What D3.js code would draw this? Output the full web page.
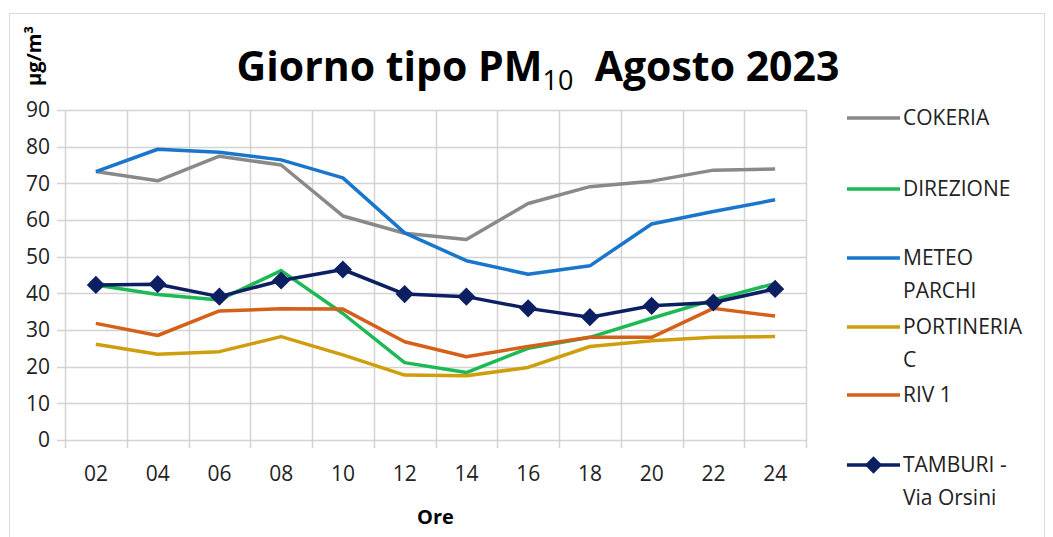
<!DOCTYPE html>
<html>
<head>
<meta charset="utf-8">
<script src="https://cdn.jsdelivr.net/npm/d3@7"></script>
<style>
  body { margin: 0; background: #fff; }
  svg { font-family: "Open Sans", "Noto Sans", sans-serif; }
</style>
</head>
<body>
<div id="chart"></div>
<script>
const hours = ["02", "04", "06", "08", "10", "12", "14", "16", "18", "20", "22", "24"];
const yTicks = [0, 10, 20, 30, 40, 50, 60, 70, 80, 90];

const cokeria = [73.2, 70.7, 77.4, 75.0, 61.1, 56.4, 54.7, 64.5, 69.1, 70.6, 73.6, 73.9];
const direzione = [42.3, 39.7, 38.2, 46.2, 34.5, 21.1, 18.4, 25.0, 28.0, 33.2, 38.2, 42.7];
const meteoParchi = [73.2, 79.3, 78.5, 76.4, 71.5, 56.5, 48.9, 45.2, 47.5, 58.9, 62.3, 65.5];
const portineriaC = [26.1, 23.4, 24.1, 28.2, 23.2, 17.7, 17.5, 19.8, 25.5, 27.1, 28.0, 28.2];
const riv1 = [31.8, 28.5, 35.2, 35.8, 35.7, 26.8, 22.7, 25.5, 28.0, 28.0, 35.9, 33.8];
const tamburi = [42.3, 42.5, 39.1, 43.5, 46.5, 39.8, 39.1, 35.9, 33.5, 36.6, 37.5, 41.2];

const series = [
  { name: ["COKERIA"], values: cokeria, color: "#898989" },
  { name: ["DIREZIONE"], values: direzione, color: "#1db954" },
  { name: ["METEO", "PARCHI"], values: meteoParchi, color: "#1a75cc" },
  { name: ["PORTINERIA", "C"], values: portineriaC, color: "#cf9e0c" },
  { name: ["RIV 1"], values: riv1, color: "#d4601a" },
  { name: ["TAMBURI -", "Via Orsini"], values: tamburi, color: "#0c1f62", marker: true }
];

const width = 1053;
const height = 537;
const margin = { top: 110, left: 65, bottom: 97, right: 247 };
const iwidth = width - margin.left - margin.right;
const iheight = height - margin.top - margin.bottom;

const svg = d3.select("#chart").append("svg")
  .attr("width", width)
  .attr("height", height);

// outer frame
svg.append("rect")
  .attr("x", 9.5).attr("y", 13.5)
  .attr("width", 1035).attr("height", 530)
  .attr("fill", "none").attr("stroke", "#d9d9d9");

const title = svg.append("text")
  .attr("x", 538).attr("y", 81)
  .attr("text-anchor", "middle")
  .attr("font-size", 41)
  .attr("font-weight", "bold")
  .attr("fill", "#000");
title.append("tspan").text("Giorno tipo PM");
title.append("tspan").attr("font-size", 27).attr("font-weight", "normal").attr("dy", 9).text("10");
title.append("tspan").attr("dy", -9).text("\u00a0 Agosto 2023");

svg.append("text")
  .attr("transform", "translate(41,56) rotate(-90)")
  .attr("text-anchor", "middle")
  .attr("font-size", 20)
  .attr("font-weight", "bold")
  .text("µg/m³");

const g = svg.append("g")
  .attr("transform", `translate(${margin.left},${margin.top})`);

const x = d3.scaleBand().domain(hours).range([0, iwidth]);
const y = d3.scaleLinear().domain([0, 90]).range([iheight, 0]);

// gridlines
g.append("g").classed("grid", true)
  .selectAll("line.h").data(yTicks).enter().append("line")
  .attr("x1", -8).attr("x2", iwidth)
  .attr("y1", (d) => Math.round(y(d)) + 0.5).attr("y2", (d) => Math.round(y(d)) + 0.5)
  .attr("stroke", "#d3d3d3").attr("stroke-width", 1.5);

g.append("g").classed("grid", true)
  .selectAll("line.v").data(hours.concat(["end"])).enter().append("line")
  .attr("x1", (d, i) => Math.round(i * x.step()) + 0.5)
  .attr("x2", (d, i) => Math.round(i * x.step()) + 0.5)
  .attr("y1", 0).attr("y2", iheight + 8)
  .attr("stroke", "#d3d3d3").attr("stroke-width", 1.5);

const yAxis = g.append("g").classed("y--axis", true)
  .call(d3.axisLeft(y).tickValues(yTicks).tickSize(0).tickPadding(15));
yAxis.select(".domain").remove();
yAxis.selectAll("text").attr("font-size", 21).attr("fill", "#222")
  .attr("font-family", "Open Sans, sans-serif");

const xAxis = g.append("g").classed("x--axis", true)
  .attr("transform", `translate(0,${iheight})`)
  .call(d3.axisBottom(x).tickSize(0).tickPadding(26));
xAxis.select(".domain").remove();
xAxis.selectAll("text").attr("font-size", 21).attr("fill", "#222")
  .attr("font-family", "Open Sans, sans-serif");

svg.append("text")
  .attr("x", margin.left + iwidth / 2).attr("y", 524)
  .attr("text-anchor", "middle")
  .attr("font-size", 20).attr("font-weight", "bold")
  .text("Ore");

const line = d3.line()
  .x((d, i) => x(hours[i]) + x.bandwidth() / 2)
  .y((d) => y(d));

series.forEach((s) => {
  g.append("path")
    .datum(s.values)
    .attr("fill", "none")
    .attr("stroke", s.color)
    .attr("stroke-width", 3.5)
    .attr("stroke-linejoin", "round")
    .attr("d", line);
});

const tam = series[5];
g.selectAll("path.marker").data(tam.values).enter().append("path")
  .attr("class", "marker")
  .attr("transform", (d, i) => `translate(${x(hours[i]) + x.bandwidth() / 2},${y(d)}) rotate(45)`)
  .attr("d", d3.symbol().type(d3.symbolSquare).size(165))
  .attr("fill", tam.color);

// legend
const legendY = [118, 189, 258, 327, 395, 465];
const legend = svg.append("g").attr("class", "legend");
series.forEach((s, k) => {
  const row = legend.append("g").attr("transform", `translate(847,${legendY[k]})`);
  row.append("line")
    .attr("x1", 0).attr("x2", 53).attr("y1", 0).attr("y2", 0)
    .attr("stroke", s.color).attr("stroke-width", 3.5);
  if (s.marker) {
    row.append("path")
      .attr("transform", "translate(26.5,0) rotate(45)")
      .attr("d", d3.symbol().type(d3.symbolSquare).size(150))
      .attr("fill", s.color);
  }
  const t = row.append("text")
    .attr("x", 56).attr("y", 0)
    .attr("font-size", 21).attr("fill", "#222");
  s.name.forEach((part, j) => {
    t.append("tspan").attr("x", 56).attr("dy", j === 0 ? "0.35em" : 33).text(part);
  });
});
</script>
</body>
</html>
